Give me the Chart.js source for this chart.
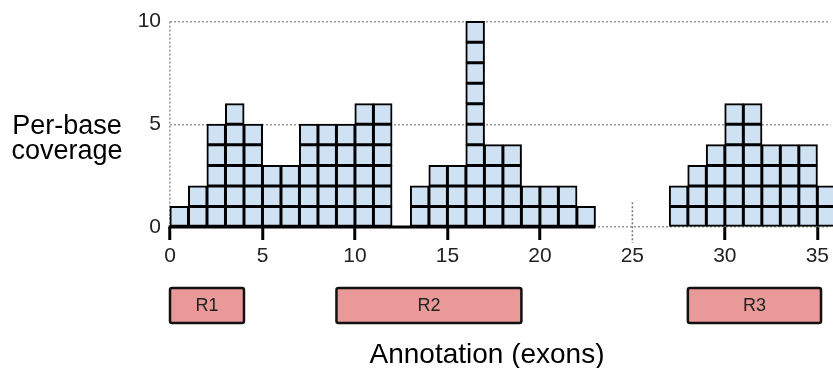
<!DOCTYPE html>
<html>
<head>
<meta charset="utf-8">
<script src="https://cdn.jsdelivr.net/npm/chart.js@4"></script>
<style>
  html, body { margin: 0; padding: 0; background: #fff; }
</style>
</head>
<body>
<canvas id="chart" width="833" height="368"></canvas>
<script>
// per-base coverage, one value per base position (0..35)
const coverage = [1, 2, 5, 6, 5, 3, 3, 5, 5, 5, 6, 6, 0, 2, 3, 3, 10, 4, 4, 2, 2, 2, 1, 0, 0, 0, 0, 2, 3, 4, 6, 6, 4, 4, 4, 2];
const xTicks = [0, 5, 10, 15, 20, 25, 30, 35];
const yTicks = [0, 5, 10];
const maxLevel = 10;

// annotation (exons)
const regionNames = ["R1", "R2", "R3"];
const regionStart = [0, 9, 28];
const regionEnd = [4, 19, 35.2];

// solid part of the axis and the break marker
const axisSolid = [0, 23];
const breakAt = 25;

const cellFill = "#cfe2f3";
const gridGray = "#999";
const font = "'Liberation Sans', Arial, sans-serif";

// one dataset per coverage level, each cell a floating bar [level-1, level]
let datasets = [];
for (let level = 1; level <= maxLevel; level++) {
  let pts = [];
  coverage.forEach(function(c, i) {
    if (c >= level) pts.push({ x: i + 0.5, y: [level - 1, level] });
  });
  datasets.push({
    data: pts,
    backgroundColor: cellFill,
    borderColor: "#000",
    borderWidth: 2,
    borderSkipped: false,
    inflateAmount: 0.5,
    grouped: false,
    barPercentage: 1,
    categoryPercentage: 1,
    clip: false
  });
}

const extras = {
  id: "extras",
  afterDatasetsDraw: function(chart) {
    const ctx = chart.ctx;
    const x = chart.scales.x;
    const y = chart.scales.y;
    const y0 = y.getPixelForValue(0);

    ctx.save();

    // solid axis segment
    ctx.strokeStyle = "#000";
    ctx.lineWidth = 3;
    ctx.beginPath();
    ctx.moveTo(x.getPixelForValue(axisSolid[0]) - 1.5, y0);
    ctx.lineTo(x.getPixelForValue(axisSolid[1]), y0);
    ctx.stroke();

    // axis break marker
    ctx.strokeStyle = "#777";
    ctx.lineWidth = 1.5;
    ctx.setLineDash([2, 2]);
    ctx.beginPath();
    ctx.moveTo(x.getPixelForValue(breakAt), y.getPixelForValue(1.2));
    ctx.lineTo(x.getPixelForValue(breakAt), y0 + 16);
    ctx.stroke();
    ctx.setLineDash([]);

    // region boxes
    const top = 288, h = 35;
    regionNames.forEach(function(name, i) {
      const l = x.getPixelForValue(regionStart[i]);
      const r = x.getPixelForValue(regionEnd[i]);
      ctx.beginPath();
      ctx.roundRect(l, top, r - l, h, 2);
      ctx.fillStyle = "#ea9999";
      ctx.fill();
      ctx.strokeStyle = "#111";
      ctx.lineWidth = 2.5;
      ctx.stroke();
      ctx.fillStyle = "#222";
      ctx.font = "18px " + font;
      ctx.textAlign = "center";
      ctx.textBaseline = "middle";
      ctx.fillText(name, (l + r) / 2, top + h / 2 + 1);
    });

    // axis titles
    ctx.fillStyle = "#000";
    ctx.font = "27px " + font;
    ctx.textAlign = "center";
    ctx.textBaseline = "alphabetic";
    ctx.fillText("Per-base", 67, 134);
    ctx.fillText("coverage", 67, 159);
    ctx.font = "28px " + font;
    ctx.fillText("Annotation (exons)", 487, 363);

    ctx.restore();
  }
};

new Chart(document.getElementById("chart"), {
  type: "bar",
  data: { datasets: datasets },
  plugins: [extras],
  options: {
    responsive: false,
    animation: false,
    layout: { padding: { top: 19, left: 0, right: 0, bottom: 0 } },
    plugins: {
      legend: { display: false },
      tooltip: { enabled: false }
    },
    scales: {
      x: {
        type: "linear",
        offset: false,
        min: 0,
        max: 35.7,
        afterBuildTicks: function(s) { s.ticks = xTicks.map(v => ({ value: v })); },
        afterFit: function(s) { s.height = 141; },
        grid: {
          offset: false,
          drawOnChartArea: true,
          color: c => (c.tick && c.tick.value === 0) ? gridGray : "transparent",
          lineWidth: 1.5,
          tickColor: c => (c.tick && c.tick.value === breakAt) ? "transparent" : "#000",
          tickWidth: 3,
          tickLength: 13
        },
        border: { display: false, dash: [2, 2] },
        ticks: {
          autoSkip: false,
          maxRotation: 0,
          padding: 4,
          color: "#222",
          font: { family: font, size: 21 }
        }
      },
      y: {
        min: 0,
        max: 10,
        afterBuildTicks: function(s) { s.ticks = yTicks.map(v => ({ value: v })); },
        afterFit: function(s) { s.width = 170; },
        grid: {
          color: gridGray,
          lineWidth: 1.5,
          drawTicks: false
        },
        border: { display: false, dash: [2, 2] },
        ticks: {
          padding: 9,
          color: "#222",
          font: { family: font, size: 21 }
        }
      }
    }
  }
});
</script>
</body>
</html>
